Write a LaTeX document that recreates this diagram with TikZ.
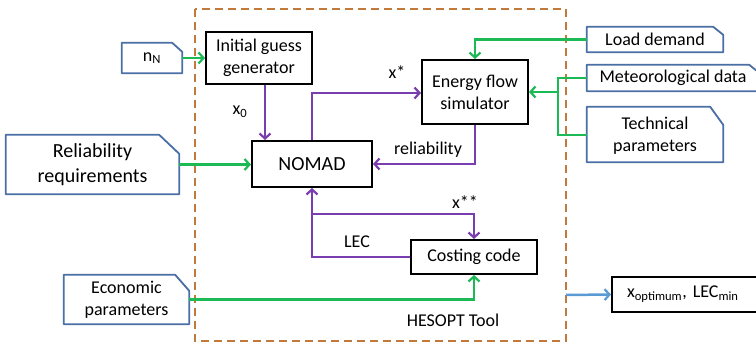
\documentclass[tikz,border=0pt]{standalone}
\usepackage{fontspec}
\setmainfont{Carlito}
\usetikzlibrary{arrows.meta}
\definecolor{grn}{HTML}{1DB954}
\definecolor{prp}{HTML}{7A3DB0}
\definecolor{bbrd}{HTML}{4A6FA5}
\definecolor{barr}{HTML}{5B9BD5}
\definecolor{brn}{HTML}{C27A3C}
\tikzset{
  txt/.style={font=\fontsize{18}{22}\selectfont, align=center, inner sep=0pt},
  proc/.style={txt, draw=black, line width=2pt},
  inp/.style={txt},
  inpline/.style={draw=bbrd, line width=1.8pt, line join=round},
  garr/.style={draw=grn, line width=2.5pt, -{Straight Barb[length=5pt,width=11pt,line width=2.2pt]}},
  gline/.style={draw=grn, line width=2.5pt},
  parr/.style={draw=prp, line width=2.5pt, -{Straight Barb[length=5pt,width=11pt,line width=2.2pt]}},
  barrow/.style={draw=barr, line width=2.5pt, -{Straight Barb[length=5pt,width=11pt,line width=2.2pt]}},
  lbl/.style={font=\fontsize{18}{22}\selectfont, inner sep=0pt}
}
% #1 node, #2 chamfer x, #3 chamfer y, #4 vertical offset of the outline (pt, up)
\newcommand\chamfbox[4]{\draw[inpline] ([yshift=#4pt]#1.south west) -- ([yshift=#4pt]#1.north west) -- ([xshift=-#2pt,yshift=#4pt]#1.north east) -- ([yshift=-#3pt+#4pt]#1.north east) -- ([yshift=#4pt]#1.south east) -- cycle;}
\begin{document}
\begin{tikzpicture}[x=1pt,y=-1pt]
\useasboundingbox (0,0) rectangle (756,344);
% HESOPT tool frame
\draw[brn, line width=2pt, dash pattern=on 8pt off 5pt] (195,9) rectangle (566,341);
\node[lbl] (hesopt) at (453,320) {HESOPT Tool};
% inputs
\node[inp, minimum width=60pt, minimum height=30pt] (nN) at (152,58) {n\textsubscript{N}};
\chamfbox{nN}{10}{9}{0}
\node[inp, minimum width=173pt, minimum height=59pt, font=\fontsize{20}{25}\selectfont] (rel) at (92.5,164.5) {Reliability\\requirements};
\chamfbox{rel}{20}{19}{0}
\node[inp, minimum width=125pt, minimum height=49pt] (econ) at (126.5,299.5) {Economic\\parameters};
\chamfbox{econ}{14}{16}{0}
\node[inp, minimum width=136pt, minimum height=25pt] (load) at (655,39.5) {Load demand};
\chamfbox{load}{10}{8}{0}
\node[inp, minimum width=172pt, minimum height=26pt] (met) at (673,78) {Meteorological data};
\chamfbox{met}{10}{8}{0}
\node[inp, minimum width=136pt, minimum height=55pt] (tech) at (655,136) {Technical\\parameters};
\chamfbox{tech}{13}{18}{1.5}
% processes
\node[proc, minimum width=106pt, minimum height=52pt] (init) at (259,58) {Initial guess\\generator};
\node[proc, minimum width=120pt, minimum height=46pt, font=\fontsize{20}{24}\selectfont] (nomad) at (312,164) {NOMAD};
\node[proc, minimum width=106pt, minimum height=64pt] (efs) at (475,92) {Energy flow\\simulator};
\node[proc, minimum width=126pt, minimum height=34pt] (cost) at (474,257) {Costing code};
\node[proc, minimum width=150pt, minimum height=35pt, text width=140pt, align=left] (out) at (687,294.5) {\hspace*{10pt}x\textsubscript{optimum}, LEC\textsubscript{min}};
% green connectors
\draw[garr] (nN) -- (init);
\draw[garr] (rel.east) -- (rel.east -| nomad.west);
\draw[garr] (load.west) -| (efs.north);
\coordinate (jx) at (558,0);
\draw[gline] (met.west) -| (jx |- 0,135) -- (587,135);
\draw[garr] (jx |- efs.east) -- (efs.east);
\draw[garr] (econ.east) -| (cost.south);
% purple connectors
\draw[parr] ([xshift=6pt]init.south) -- ([xshift=6pt]init.south |- nomad.north);
\draw[parr] (nomad.north) |- ([yshift=-1pt]efs.west);
\draw[parr] (efs.south) |- (nomad.east);
\draw[parr] (cost.west) -| (nomad.south);
\coordinate (jp) at (nomad.south |- 0,214);
\draw[parr] (jp) -| (cost.north);
% blue output
\coordinate (bout) at (566,295);
\draw[barrow] (bout) -- (out.west);
% labels
\node[lbl] (lx0) at (240,112) {x\textsubscript{0}};
\node[lbl] (lxs) at (397,72) {x*};
\node[lbl] (lrel) at (428,150) {reliability};
\node[lbl] (lxss) at (465,202) {x**};
\node[lbl] (llec) at (357,242) {LEC};
\end{tikzpicture}
\end{document}
